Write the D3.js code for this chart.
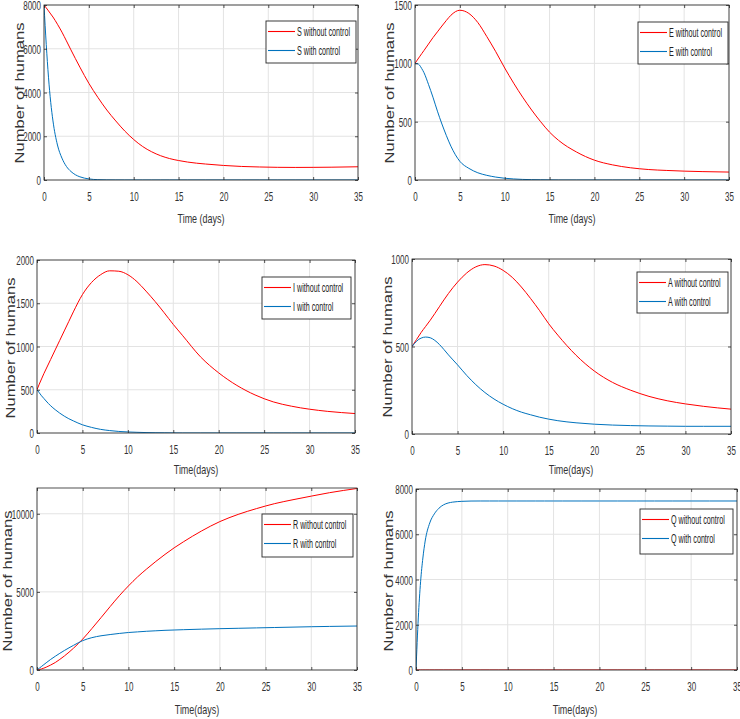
<!DOCTYPE html>
<html><head><meta charset="utf-8">
<script src="https://cdn.jsdelivr.net/npm/d3@7"></script>
<style>
html,body{margin:0;padding:0;background:#fff;}
svg{display:block;}
</style></head>
<body>
<svg id="chart" width="740" height="719"></svg>
<script>
// ---------------- data ----------------
const days = [0,0.25,0.5,0.75,1,1.5,2,2.5,3,3.5,4,5,6,7,8,9,10,11,12,13,14,15,16,18,20,22,24,26,28,30,32,35];

const S_without = [8000,7870,7730,7590,7450,7120,6760,6360,5950,5550,5160,4420,3780,3200,2700,2240,1850,1530,1290,1110,980,890,820,730,665,620,595,580,575,578,585,605];
const S_with    = [8000,6200,4700,3550,2700,1600,1000,620,390,240,145,50,15,5,2,0,0,0,0,0,0,0,0,0,0,0,0,0,0,0,0,0];

const E_without = [1000,1028,1056,1083,1110,1165,1220,1270,1320,1368,1412,1455,1428,1350,1230,1100,960,830,710,600,500,410,340,240,170,130,105,90,82,76,72,68];
const E_with    = [1000,998,985,955,920,820,710,590,480,380,290,160,100,62,40,25,15,9,5,3,2,1,0,0,0,0,0,0,0,0,0,0];

const I_without = [500,565,625,685,740,850,960,1070,1180,1290,1400,1600,1740,1830,1875,1870,1830,1750,1640,1520,1390,1255,1130,880,695,550,440,360,310,275,250,225];
const I_with    = [500,465,430,400,370,315,270,230,195,165,140,95,65,42,28,18,12,8,5,3,2,1,0,0,0,0,0,0,0,0,0,0];

const A_without = [500,520,540,560,580,615,650,688,727,766,803,868,920,955,968,960,935,895,840,775,705,630,565,450,360,295,250,215,190,172,158,142];
const A_with    = [500,516,530,541,548,554,550,535,512,483,452,395,335,282,237,200,170,145,125,110,96,85,76,64,56,51,48,46,45,44,44,44];

const R_without = [0,30,70,120,180,320,480,680,900,1140,1400,1980,2650,3350,4060,4750,5380,5960,6470,6950,7400,7820,8200,8900,9500,9960,10330,10650,10900,11130,11350,11620];
const R_with    = [0,115,230,345,460,680,880,1070,1250,1420,1580,1880,2070,2190,2270,2340,2400,2440,2480,2510,2540,2560,2580,2615,2645,2670,2695,2720,2745,2770,2790,2815];

const Q_without = [0,0,0,0,0,0,0,0,0,0,0,0,0,0,0,0,0,0,0,0,0,0,0,0,0,0,0,0,0,0,0,0];
const Q_with    = [0,2300,3900,4950,5700,6500,6900,7150,7300,7380,7420,7455,7468,7470,7470,7470,7470,7470,7470,7470,7470,7470,7470,7470,7470,7470,7470,7470,7470,7470,7470,7470];

const xTicks = [0,5,10,15,20,25,30,35];
const yTicksS = [0,2000,4000,6000,8000];
const yTicksE = [0,500,1000,1500];
const yTicksI = [0,500,1000,1500,2000];
const yTicksA = [0,500,1000];
const yTicksR = [0,5000,10000];
const yTicksQ = [0,2000,4000,6000,8000];

const compartments = ["S","E","I","A","R","Q"];
const withoutSeries = [S_without,E_without,I_without,A_without,R_without,Q_without];
const withSeries    = [S_with,E_with,I_with,A_with,R_with,Q_with];
const yMaxes = [8000,1500,2000,1000,11650,8000];
const yTickSets = [yTicksS,yTicksE,yTicksI,yTicksA,yTicksR,yTicksQ];
const xLabels = ["Time (days)","Time (days)","Time(days)","Time(days)","Time(days)","Time(days)"];
const yLabel = "Number of humans";

// ---------------- layout (pixels) ----------------
const plotRects = [ // [left, top, right, bottom]
  [44,5,358,180],[415,5,729,180],
  [37,260,355,433],[412,259,731,434],
  [37,488,357,670],[416,489,737,670]
];
const legendRects = [
  [266,21,356,63],[638,22,728,64],
  [262,277,351,319],[637,272,728,313],
  [262,514,353,557],[640,509,733,554]
];
const yLabelPos = [[19,93],[389,93],[10,348],[387,347],[7,581],[388,581]];
const xLabelPos = [[201,223],[572,223],[196,474],[571,474],[197,714],[575,714]];

const RED = "#ff0000", BLUE = "#0072bd";
const AXIS = "#262626", GRID = "#e3e3e3";
const NARROW = "'Liberation Sans Narrow','Arial Narrow','Liberation Sans',Arial,sans-serif";
const WIDE = "'Liberation Sans',Arial,Helvetica,sans-serif";

const svg = d3.select("#chart");
const defs = svg.append("defs");

// measure helper
function natWidth(txt, family, size){
  const t = svg.append("text").attr("font-family",family).attr("font-size",size).text(txt);
  const w = t.node().getComputedTextLength(); t.remove(); return w;
}
const tickSize = 12.5;
const digitK = 4.45 / (natWidth("0000", NARROW, tickSize)/4);
const legSize = 12;
const legK = 53 / natWidth("S without control", NARROW, legSize);
const xlSize = 13.5;
const xlK = 47 / natWidth("Time (days)", NARROW, xlSize);

compartments.forEach((c,i)=>{
  const [L,T,R,B] = plotRects[i];
  const x = d3.scaleLinear().domain([0,35]).range([L,R]);
  const y = d3.scaleLinear().domain([0,yMaxes[i]]).range([B,T]);
  const g = svg.append("g");

  // grid
  g.append("g").selectAll("line").data(xTicks).join("line")
    .attr("x1",d=>x(d)).attr("x2",d=>x(d)).attr("y1",T).attr("y2",B)
    .attr("stroke",GRID).attr("stroke-width",1);
  g.append("g").selectAll("line").data(yTickSets[i]).join("line")
    .attr("x1",L).attr("x2",R).attr("y1",d=>y(d)).attr("y2",d=>y(d))
    .attr("stroke",GRID).attr("stroke-width",1);

  // clip
  const cid = "clip"+i;
  defs.append("clipPath").attr("id",cid).append("rect")
    .attr("x",L).attr("y",T-1).attr("width",R-L).attr("height",B-T+1);

  const line = d3.line().x((d,k)=>x(days[k])).y(d=>y(d)).curve(d3.curveMonotoneX);
  const lg = g.append("g").attr("clip-path",`url(#${cid})`);
  lg.append("path").attr("d",line(withoutSeries[i])).attr("fill","none")
    .attr("stroke",RED).attr("stroke-width",1);
  lg.append("path").attr("d",line(withSeries[i])).attr("fill","none")
    .attr("stroke",BLUE).attr("stroke-width",1);

  // axes
  const ax = (sel)=>{ sel.selectAll("path.domain").remove(); sel.selectAll("line").attr("stroke",AXIS).attr("stroke-width",0.8); };
  const bot = g.append("g").attr("transform",`translate(0,${B})`)
    .call(d3.axisBottom(x).tickValues(xTicks).tickSizeInner(-3).tickSizeOuter(0).tickFormat(d3.format("d"))).call(ax);
  bot.selectAll("text").attr("y",21).attr("dy",0)
    .attr("font-family",NARROW).attr("font-size",tickSize).attr("fill","#333")
    .each(function(){ const w=this.getComputedTextLength(); d3.select(this).attr("textLength",w*digitK).attr("lengthAdjust","spacingAndGlyphs"); });
  const lef = g.append("g").attr("transform",`translate(${L},0)`)
    .call(d3.axisLeft(y).tickValues(yTickSets[i]).tickSizeInner(-3).tickSizeOuter(0).tickFormat(d3.format("d"))).call(ax);
  lef.selectAll("text").attr("x",-3).attr("dy","0.36em")
    .attr("font-family",NARROW).attr("font-size",tickSize).attr("fill","#333")
    .each(function(){ const w=this.getComputedTextLength(); d3.select(this).attr("textLength",w*digitK).attr("lengthAdjust","spacingAndGlyphs"); });
  g.append("g").attr("transform",`translate(0,${T})`)
    .call(d3.axisTop(x).tickValues(xTicks).tickSizeInner(-3).tickSizeOuter(0).tickFormat(""))
    .call(ax).selectAll("text").remove();
  g.append("g").attr("transform",`translate(${R},0)`)
    .call(d3.axisRight(y).tickValues(yTickSets[i]).tickSizeInner(-3).tickSizeOuter(0).tickFormat(""))
    .call(ax).selectAll("text").remove();
  g.append("rect").attr("x",L).attr("y",T).attr("width",R-L).attr("height",B-T)
    .attr("fill","none").attr("stroke",AXIS).attr("stroke-width",0.8);

  // labels
  const [xlx,xly] = xLabelPos[i];
  const xt = g.append("text").attr("x",xlx).attr("y",xly).attr("text-anchor","middle")
    .attr("font-family",NARROW).attr("font-size",xlSize).attr("fill","#333").text(xLabels[i]);
  xt.attr("textLength",xt.node().getComputedTextLength()*xlK).attr("lengthAdjust","spacingAndGlyphs");
  const [ylx,yly] = yLabelPos[i];
  g.append("text").attr("transform",`translate(${ylx+5},${yly}) rotate(-90)`)
    .attr("text-anchor","middle").attr("font-family",WIDE).attr("font-size",13)
    .attr("fill","#333").attr("textLength",141).attr("lengthAdjust","spacingAndGlyphs").text(yLabel);

  // legend
  const [lx0,ly0,lx1,ly1] = legendRects[i];
  const leg = g.append("g");
  leg.append("rect").attr("x",lx0).attr("y",ly0).attr("width",lx1-lx0).attr("height",ly1-ly0)
    .attr("fill","#fff").attr("stroke",AXIS).attr("stroke-width",0.9);
  const entries = [[c+" without control",RED],[c+" with control",BLUE]];
  const rows = [ly0+10.5, ly0+29.5];
  entries.forEach(([txt,col],k)=>{
    leg.append("line").attr("x1",lx0+2).attr("x2",lx0+29).attr("y1",rows[k]).attr("y2",rows[k])
      .attr("stroke",col).attr("stroke-width",1.1);
    const t = leg.append("text").attr("x",lx0+31).attr("y",rows[k]+4.3)
      .attr("font-family",NARROW).attr("font-size",legSize).attr("fill","#222").text(txt);
    t.attr("textLength",t.node().getComputedTextLength()*legK).attr("lengthAdjust","spacingAndGlyphs");
  });
});
</script>
</body></html>
